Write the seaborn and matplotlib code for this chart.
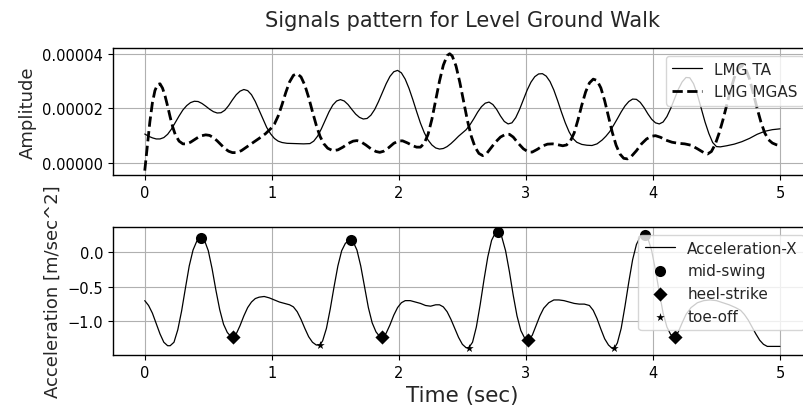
import numpy as np
import pandas as pd
import matplotlib
matplotlib.use("Agg")
import matplotlib.pyplot as plt
import seaborn as sns

# ---------------- data ----------------
# EMG amplitudes, units of 1e-5
ta_time = [0.00, 0.03, 0.06, 0.09, 0.12, 0.15, 0.18, 0.21, 0.24, 0.27, 0.30, 0.33, 0.36,
           0.39, 0.42, 0.45, 0.48, 0.51, 0.54, 0.57, 0.60, 0.63, 0.66, 0.69, 0.72, 0.75,
           0.78, 0.81, 0.84, 0.87, 0.90, 0.93, 0.96, 0.99, 1.02, 1.05, 1.08, 1.12, 1.18,
           1.25, 1.30, 1.33, 1.36, 1.39, 1.42, 1.45, 1.48, 1.51, 1.54, 1.57, 1.60, 1.63,
           1.66, 1.69, 1.72, 1.75, 1.78, 1.81, 1.84, 1.87, 1.90, 1.93, 1.96, 1.99, 2.02,
           2.05, 2.08, 2.11, 2.14, 2.17, 2.20, 2.23, 2.26, 2.29, 2.32, 2.35, 2.38, 2.41,
           2.44, 2.47, 2.50, 2.53, 2.56, 2.59, 2.62, 2.65, 2.68, 2.71, 2.74, 2.77, 2.80,
           2.83, 2.86, 2.89, 2.92, 2.95, 2.98, 3.01, 3.04, 3.07, 3.10, 3.13, 3.16, 3.19,
           3.22, 3.25, 3.28, 3.31, 3.34, 3.37, 3.40, 3.44, 3.48, 3.52, 3.56, 3.60, 3.63,
           3.66, 3.69, 3.72, 3.75, 3.78, 3.81, 3.84, 3.87, 3.90, 3.93, 3.96, 3.99, 4.02,
           4.05, 4.08, 4.11, 4.14, 4.17, 4.20, 4.23, 4.26, 4.29, 4.32, 4.35, 4.38, 4.41,
           4.44, 4.47, 4.50, 4.53, 4.58, 4.64, 4.70, 4.76, 4.82, 4.88, 4.94, 5.00]
ta_amp = [1.06, 0.98, 0.92, 0.88, 0.88, 0.93, 1.05, 1.24, 1.48, 1.72, 1.94, 2.10, 2.21,
          2.26, 2.25, 2.18, 2.08, 1.97, 1.88, 1.83, 1.84, 1.93, 2.10, 2.31, 2.50, 2.63,
          2.69, 2.65, 2.50, 2.25, 1.93, 1.60, 1.30, 1.07, 0.90, 0.80, 0.75, 0.72, 0.71,
          0.70, 0.71, 0.80, 0.98, 1.25, 1.56, 1.87, 2.12, 2.27, 2.32, 2.27, 2.14, 1.96,
          1.79, 1.67, 1.61, 1.63, 1.75, 1.96, 2.25, 2.58, 2.90, 3.17, 3.34, 3.39, 3.30,
          3.07, 2.73, 2.32, 1.88, 1.46, 1.11, 0.84, 0.66, 0.55, 0.51, 0.53, 0.60, 0.71,
          0.84, 0.98, 1.10, 1.22, 1.40, 1.62, 1.86, 2.06, 2.19, 2.23, 2.14, 1.96, 1.72,
          1.52, 1.43, 1.47, 1.66, 1.96, 2.32, 2.67, 2.96, 3.16, 3.26, 3.27, 3.18, 2.98,
          2.67, 2.28, 1.86, 1.47, 1.14, 0.90, 0.76, 0.68, 0.65, 0.64, 0.70, 0.84, 0.98,
          1.15, 1.38, 1.62, 1.87, 2.09, 2.25, 2.34, 2.33, 2.22, 2.03, 1.80, 1.60, 1.47,
          1.43, 1.50, 1.70, 2.00, 2.35, 2.70, 2.97, 3.13, 3.12, 2.90, 2.50, 2.00, 1.50,
          1.08, 0.75, 0.60, 0.59, 0.63, 0.69, 0.78, 0.90, 1.05, 1.16, 1.22, 1.25]

mgas_time = [0.00, 0.02, 0.04, 0.06, 0.08, 0.10, 0.12, 0.14, 0.16, 0.18, 0.20, 0.22, 0.24,
             0.27, 0.30, 0.33, 0.36, 0.39, 0.42, 0.45, 0.48, 0.51, 0.54, 0.57, 0.60, 0.63,
             0.66, 0.69, 0.72, 0.76, 0.80, 0.85, 0.90, 0.95, 0.99, 1.02, 1.05, 1.08, 1.11,
             1.14, 1.17, 1.20, 1.23, 1.26, 1.29, 1.32, 1.35, 1.38, 1.41, 1.44, 1.48, 1.52,
             1.56, 1.60, 1.64, 1.67, 1.70, 1.74, 1.78, 1.82, 1.85, 1.88, 1.92, 1.96, 2.00,
             2.03, 2.07, 2.11, 2.14, 2.17, 2.20, 2.23, 2.26, 2.29, 2.32, 2.35, 2.38, 2.40,
             2.42, 2.45, 2.48, 2.51, 2.54, 2.57, 2.60, 2.63, 2.66, 2.69, 2.72, 2.76, 2.80,
             2.84, 2.87, 2.90, 2.94, 2.98, 3.02, 3.05, 3.09, 3.13, 3.17, 3.21, 3.25, 3.29,
             3.32, 3.35, 3.38, 3.41, 3.44, 3.47, 3.50, 3.53, 3.56, 3.59, 3.62, 3.65, 3.68,
             3.71, 3.74, 3.77, 3.80, 3.83, 3.87, 3.91, 3.95, 3.99, 4.02, 4.06, 4.10, 4.15,
             4.20, 4.25, 4.30, 4.35, 4.40, 4.43, 4.46, 4.49, 4.52, 4.55, 4.58, 4.61, 4.64,
             4.67, 4.70, 4.73, 4.76, 4.79, 4.82, 4.85, 4.88, 4.91, 4.94, 4.97, 5.00]
mgas_amp = [-0.28, 0.60, 1.50, 2.20, 2.65, 2.87, 2.90, 2.74, 2.45, 2.08, 1.68, 1.32, 1.04,
            0.80, 0.70, 0.70, 0.76, 0.85, 0.94, 1.00, 1.03, 1.01, 0.93, 0.81, 0.67, 0.53,
            0.43, 0.38, 0.38, 0.45, 0.58, 0.74, 0.90, 1.07, 1.25, 1.42, 1.72, 2.13, 2.58,
            2.97, 3.21, 3.27, 3.15, 2.85, 2.40, 1.88, 1.38, 0.97, 0.70, 0.54, 0.45, 0.48,
            0.58, 0.71, 0.80, 0.82, 0.78, 0.66, 0.52, 0.42, 0.39, 0.43, 0.56, 0.72, 0.81,
            0.81, 0.73, 0.63, 0.58, 0.58, 0.72, 1.05, 1.60, 2.30, 3.00, 3.58, 3.93, 4.00,
            3.92, 3.55, 2.95, 2.25, 1.55, 0.98, 0.58, 0.35, 0.27, 0.34, 0.52, 0.76, 0.95,
            1.05, 1.05, 0.95, 0.72, 0.52, 0.40, 0.40, 0.50, 0.62, 0.69, 0.70, 0.67, 0.63,
            0.66, 0.80, 1.10, 1.58, 2.12, 2.60, 2.93, 3.07, 3.02, 2.75, 2.28, 1.70, 1.12,
            0.65, 0.33, 0.17, 0.15, 0.24, 0.45, 0.70, 0.88, 0.98, 1.00, 0.94, 0.84, 0.76,
            0.72, 0.70, 0.65, 0.52, 0.38, 0.33, 0.42, 0.68, 1.08, 1.56, 2.10, 2.65, 3.12,
            3.45, 3.57, 3.45, 3.08, 2.55, 2.00, 1.50, 1.10, 0.85, 0.73, 0.67, 0.64]

# Acceleration-X, m/sec^2
acc_time = [0.00, 0.03, 0.06, 0.09, 0.12, 0.15, 0.18, 0.20, 0.23, 0.26, 0.29, 0.32, 0.35,
            0.38, 0.41, 0.446, 0.47, 0.50, 0.53, 0.56, 0.59, 0.62, 0.65, 0.68, 0.694, 0.72,
            0.75, 0.78, 0.81, 0.84, 0.87, 0.90, 0.94, 0.98, 1.02, 1.06, 1.10, 1.14, 1.17,
            1.20, 1.23, 1.26, 1.29, 1.32, 1.35, 1.378, 1.40, 1.43, 1.46, 1.49, 1.52, 1.55,
            1.58, 1.627, 1.64, 1.67, 1.70, 1.73, 1.76, 1.79, 1.82, 1.85, 1.87, 1.90, 1.93,
            1.96, 1.99, 2.02, 2.05, 2.09, 2.13, 2.17, 2.21, 2.25, 2.29, 2.32, 2.35, 2.38,
            2.41, 2.44, 2.47, 2.50, 2.53, 2.55, 2.58, 2.61, 2.64, 2.67, 2.70, 2.73, 2.76,
            2.78, 2.81, 2.84, 2.87, 2.90, 2.93, 2.96, 2.99, 3.02, 3.05, 3.08, 3.11, 3.14,
            3.18, 3.22, 3.26, 3.30, 3.34, 3.38, 3.42, 3.46, 3.50, 3.53, 3.56, 3.59, 3.62,
            3.65, 3.68, 3.695, 3.72, 3.75, 3.78, 3.81, 3.84, 3.87, 3.90, 3.94, 3.96, 3.99,
            4.02, 4.05, 4.08, 4.11, 4.14, 4.17, 4.20, 4.23, 4.26, 4.30, 4.35, 4.40, 4.45,
            4.50, 4.55, 4.60, 4.65, 4.69, 4.72, 4.75, 4.78, 4.81, 4.84, 4.87, 4.90, 4.93,
            5.00]
acc_val = [-0.70, -0.77, -0.88, -1.03, -1.18, -1.30, -1.35, -1.35, -1.30, -1.12, -0.85,
           -0.52, -0.20, 0.03, 0.16, 0.21, 0.17, 0.02, -0.24, -0.55, -0.83, -1.04, -1.16,
           -1.22, -1.23, -1.18, -1.06, -0.92, -0.80, -0.72, -0.67, -0.65, -0.64, -0.66,
           -0.69, -0.72, -0.74, -0.76, -0.79, -0.86, -0.97, -1.10, -1.22, -1.30, -1.34,
           -1.34, -1.28, -1.10, -0.82, -0.50, -0.20, 0.02, 0.13, 0.17, 0.15, 0.03, -0.20,
           -0.50, -0.80, -1.02, -1.15, -1.22, -1.23, -1.17, -1.05, -0.91, -0.80, -0.73,
           -0.70, -0.70, -0.72, -0.74, -0.77, -0.78, -0.76, -0.76, -0.79, -0.86, -0.97,
           -1.10, -1.23, -1.33, -1.38, -1.38, -1.30, -1.08, -0.76, -0.40, -0.07, 0.17,
           0.28, 0.29, 0.22, 0.02, -0.28, -0.62, -0.92, -1.13, -1.24, -1.27, -1.20, -1.06,
           -0.92, -0.81, -0.73, -0.69, -0.69, -0.70, -0.72, -0.74, -0.75, -0.75, -0.77,
           -0.84, -0.96, -1.11, -1.25, -1.34, -1.39, -1.39, -1.31, -1.10, -0.78, -0.43,
           -0.11, 0.11, 0.22, 0.24, 0.20, 0.02, -0.26, -0.58, -0.88, -1.08, -1.19, -1.22,
           -1.15, -1.02, -0.90, -0.80, -0.73, -0.70, -0.69, -0.70, -0.73, -0.76, -0.80,
           -0.84, -0.90, -0.98, -1.08, -1.18, -1.27, -1.33, -1.36, -1.36, -1.36]

mid_time = [0.446, 1.627, 2.78, 3.94]
mid_val = [0.21, 0.17, 0.29, 0.24]
heel_time = [0.694, 1.87, 3.02, 4.17]
heel_val = [-1.23, -1.23, -1.27, -1.22]
toe_time = [1.378, 2.55, 3.695]
toe_val = [-1.34, -1.38, -1.39]

# ---------------- style ----------------
sns.set_style("whitegrid")
plt.rcParams.update({
    "font.family": ["DejaVu Sans"],
    "axes.edgecolor": "black",
    "axes.linewidth": 1.0,
    "grid.color": "#b0b0b0",
    "grid.linewidth": 0.8,
    "xtick.bottom": True,
    "ytick.left": True,
    "xtick.major.size": 3.5,
    "ytick.major.size": 3.5,
    "xtick.color": "black",
    "ytick.color": "black",
    "xtick.labelsize": 10.5,
    "ytick.labelsize": 10.5,
})

W, H = 804, 410
fig = plt.figure(figsize=(W / 100, H / 100), dpi=100)
left = 113 / W
width = (811.75 - 113) / W
ax1 = fig.add_axes([left, 1 - 176 / H, width, 127 / H])
ax2 = fig.add_axes([left, 1 - 356 / H, width, 128 / H])

scale = 1e-5
emg = pd.DataFrame({"t": ta_time, "a": np.array(ta_amp) * scale})
emg2 = pd.DataFrame({"t": mgas_time, "a": np.array(mgas_amp) * scale})
sns.lineplot(data=emg, x="t", y="a", ax=ax1, color="black", linewidth=0.9,
             sort=False, label="LMG TA")
sns.lineplot(data=emg2, x="t", y="a", ax=ax1, color="black", linewidth=2.0,
             linestyle="--", sort=False, label="LMG MGAS")
ax1.set_xlim(-0.25, 5.25)
ax1.set_ylim(-0.0000044, 0.0000421)
ax1.set_yticks([0.0, 0.00002, 0.00004])
ax1.set_yticklabels(["0.00000", "0.00002", "0.00004"])
ax1.set_xticks([0, 1, 2, 3, 4, 5])
ax1.set_xlabel("")
ax1.set_ylabel("Amplitude", fontsize=13)
ax1.set_title("Signals pattern for Level Ground Walk", fontsize=15, pad=16)
ax1.legend(loc="upper right", fontsize=11, frameon=True, framealpha=0.8,
           edgecolor="0.8", fancybox=True)

acc = pd.DataFrame({"t": acc_time, "v": acc_val})
sns.lineplot(data=acc, x="t", y="v", ax=ax2, color="black", linewidth=0.9,
             sort=False, label="Acceleration-X")
sns.scatterplot(x=mid_time, y=mid_val, ax=ax2, color="black", marker="o", s=64,
                linewidth=0, zorder=3, label="mid-swing")
sns.scatterplot(x=heel_time, y=heel_val, ax=ax2, color="black", marker="D", s=52,
                linewidth=0, zorder=3, label="heel-strike")
sns.scatterplot(x=toe_time, y=toe_val, ax=ax2, color="black", marker="*", s=40,
                linewidth=0, zorder=3, label="toe-off")
ax2.set_xlim(-0.25, 5.25)
ax2.set_ylim(-1.484, 0.362)
ax2.set_yticks([-1.0, -0.5, 0.0])
ax2.set_xticks([0, 1, 2, 3, 4, 5])
ax2.set_xlabel("Time (sec)", fontsize=15.5)
ax2.set_ylabel("Acceleration [m/sec^2]", fontsize=13)
ax2.legend(loc="upper right", fontsize=11, frameon=True, framealpha=0.8,
           edgecolor="0.8", fancybox=True)

for ax in (ax1, ax2):
    for s in ax.spines.values():
        s.set_color("black")
        s.set_linewidth(1.0)

fig.savefig("out.png", dpi=100)
